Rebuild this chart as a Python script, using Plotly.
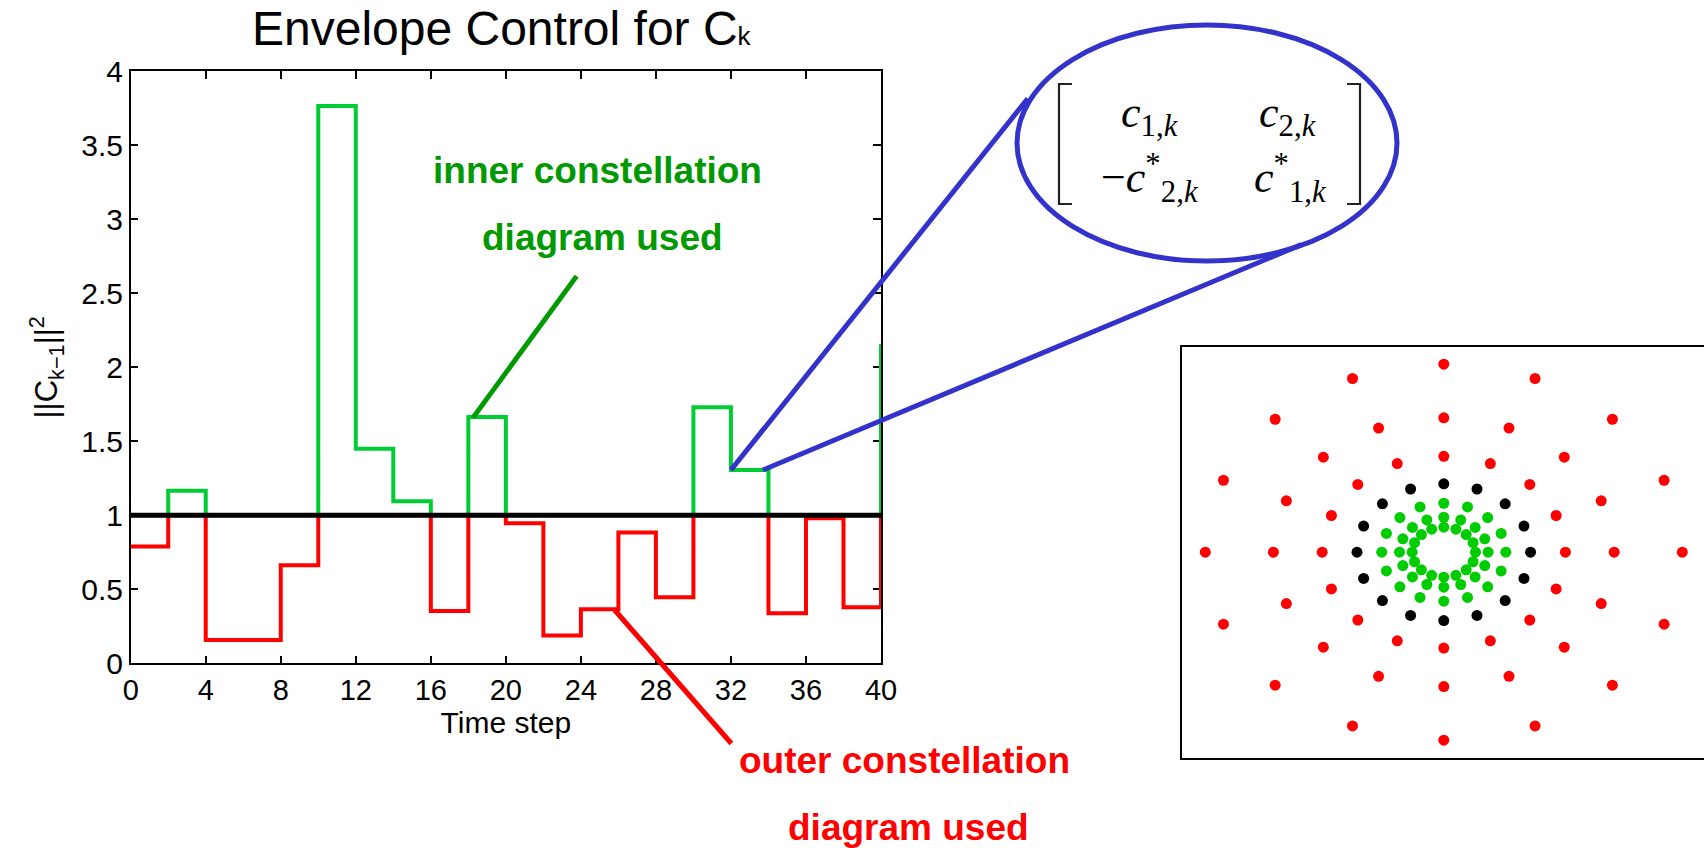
import numpy as np
import plotly.graph_objects as go

W, H = 1704, 848

# ---------------- data ----------------
STEP_X = [0, 2, 4, 6, 8, 10, 12, 14, 16, 18, 20, 22, 24, 26, 28, 30, 32, 34, 36, 38, 40]
STEP_VALUES = [0.79, 1.166, 0.157, 0.157, 0.662, 3.765, 1.45, 1.095, 0.353, 1.665,
               0.946, 0.187, 0.365, 0.883, 0.446, 1.73, 1.306, 0.338, 0.98, 0.378, 2.155]
THRESHOLD = 1.0
X_TICKS = [0, 4, 8, 12, 16, 20, 24, 28, 32, 36, 40]
Y_TICKS = [0, 0.5, 1, 1.5, 2, 2.5, 3, 3.5, 4]
Y_TICK_TEXT = ["0", "0.5", "1", "1.5", "2", "2.5", "3", "3.5", "4"]

RING_RADII = [1.00, 1.40, 1.96, 2.74, 3.84, 5.38, 7.53]
RING_COLORS = ["#00cc00", "#00cc00", "#00cc00", "#000000", "#ff0000", "#ff0000", "#ff0000"]
ANGLES_DEG = [0, 22.5, 45, 67.5, 90, 112.5, 135, 157.5,
              180, 202.5, 225, 247.5, 270, 292.5, 315, 337.5]

FONT = "Liberation Sans, Arial, sans-serif"
SERIF = "Liberation Serif, Times New Roman, serif"


def px(x):
    return x / W


def py(y):
    return 1 - y / H


vals = np.array(STEP_VALUES)
red_vals = np.minimum(vals, THRESHOLD)
green_vals = np.maximum(vals, THRESHOLD)

fig = go.Figure()

fig.add_trace(go.Scatter(x=STEP_X, y=red_vals, mode="lines", line_shape="hv",
                         line=dict(color="#ff0000", width=4), showlegend=False,
                         xaxis="x", yaxis="y"))
fig.add_trace(go.Scatter(x=STEP_X, y=green_vals, mode="lines", line_shape="hv",
                         line=dict(color="#00cc33", width=4), showlegend=False,
                         xaxis="x", yaxis="y"))
fig.add_trace(go.Scatter(x=[STEP_X[0], STEP_X[-1]], y=[THRESHOLD, THRESHOLD], mode="lines",
                         line=dict(color="#000000", width=5), showlegend=False,
                         xaxis="x", yaxis="y"))

# constellation
for r, c in zip(RING_RADII, RING_COLORS):
    th = np.deg2rad(ANGLES_DEG)
    fig.add_trace(go.Scatter(x=r * np.cos(th), y=r * np.sin(th), mode="markers",
                             marker=dict(color=c, size=11, line=dict(width=0)),
                             showlegend=False, xaxis="x2", yaxis="y2"))

axis_common = dict(showgrid=False, zeroline=False, showline=True, linecolor="black",
                   linewidth=1.5, automargin=False)

fig.update_layout(
    width=W, height=H,
    margin=dict(l=0, r=0, t=0, b=0, pad=0),
    paper_bgcolor="white", plot_bgcolor="white",
    font=dict(family=FONT, color="black"),
    xaxis=dict(domain=[px(130.7), px(881)], range=[0, 40], tickvals=X_TICKS,
               anchor="y",
               ticks="inside", ticklen=8, tickwidth=1.5, tickcolor="black",
               mirror="ticks", layer="below traces",
               tickfont=dict(size=29, family=FONT, color="black"),
               title=dict(text="Time step", font=dict(size=30, family=FONT, color="black"),
                          standoff=6),
               **axis_common),
    yaxis=dict(domain=[py(663.3), py(71.3)], range=[0, 4], tickvals=Y_TICKS,
               ticktext=Y_TICK_TEXT, anchor="x",
               ticks="inside", ticklen=8, tickwidth=1.5, tickcolor="black",
               mirror="ticks", layer="below traces",
               tickfont=dict(size=30, family=FONT, color="black"),
               title=dict(text="||C<sub>k\u22121</sub>||<sup>2</sup>",
                          font=dict(size=31, family=FONT, color="black"), standoff=14),
               **axis_common),
    xaxis2=dict(domain=[px(1182), 1.0], range=[-8.266, 8.216], showticklabels=False,
                anchor="y2", ticks="", mirror=True, **axis_common),
    yaxis2=dict(domain=[py(757.7), py(346.7)], range=[-8.23, 8.23], showticklabels=False,
                anchor="x2", ticks="", mirror=True, **axis_common),
)

ann = []
# title
ann.append(dict(text="Envelope Control for C<span style='font-size:26px'>k</span>",
                x=px(502), y=py(28), xref="paper", yref="paper", showarrow=False,
                xanchor="center", yanchor="middle",
                font=dict(size=48, family=FONT, color="black")))
# green / red labels
for txt, x, y, col in [("inner constellation", 597, 171, "#009900"),
                       ("diagram used", 602, 237, "#009900"),
                       ("outer constellation", 904, 760, "#ff0000"),
                       ("diagram used", 908, 827, "#ff0000")]:
    ann.append(dict(text="<b>%s</b>" % txt, x=px(x), y=py(y), xref="paper", yref="paper",
                    showarrow=False, xanchor="center", yanchor="middle",
                    font=dict(size=37, family=FONT, color=col)))

# pointer lines (anchored on data points, tails in pixel offsets)
for x, y, ax, ay, col, w in [(18.25, 1.66, 104.7, -143, "#009900", 5),
                             (25.8, 0.36, 118, 135, "#ff0000", 5),
                             (32.0, 1.306, 298, -373, "#3333cc", 5),
                             (33.7, 1.306, 540, -226, "#3333cc", 5)]:
    ann.append(dict(text="", x=x, y=y, xref="x", yref="y", ax=ax, ay=ay,
                    showarrow=True, arrowhead=0, arrowwidth=w, arrowcolor=col,
                    standoff=0, startstandoff=0, font=dict(size=1)))

# matrix entries
mfont = dict(size=44, family=SERIF, color="black")
for txt, x, y in [("<i>c</i><sub>1,<i>k</i></sub>", 1150, 115),
                  ("<i>c</i><sub>2,<i>k</i></sub>", 1288, 115),
                  ("\u2212<i>c</i><sup>*</sup><sub>2,<i>k</i></sub>", 1150, 178),
                  ("<i>c</i><sup>*</sup><sub>1,<i>k</i></sub>", 1290, 178)]:
    ann.append(dict(text=txt, x=px(x), y=py(y), xref="paper", yref="paper",
                    showarrow=False, xanchor="center", yanchor="middle", font=mfont))

fig.update_layout(annotations=ann)

shapes = []
shapes.append(dict(type="circle", xref="paper", yref="paper",
                   x0=px(1017), x1=px(1397), y0=py(261), y1=py(25),
                   line=dict(color="#3333cc", width=5), layer="above"))
# matrix brackets
lb = "M %f %f L %f %f L %f %f L %f %f" % (px(1072), py(84), px(1059), py(84),
                                          px(1059), py(204), px(1072), py(204))
rb = "M %f %f L %f %f L %f %f L %f %f" % (px(1347), py(84), px(1360), py(84),
                                          px(1360), py(204), px(1347), py(204))
for p in (lb, rb):
    shapes.append(dict(type="path", path=p, xref="paper", yref="paper",
                       line=dict(color="#222222", width=2.2)))
fig.update_layout(shapes=shapes)

fig.write_html("out.html")
